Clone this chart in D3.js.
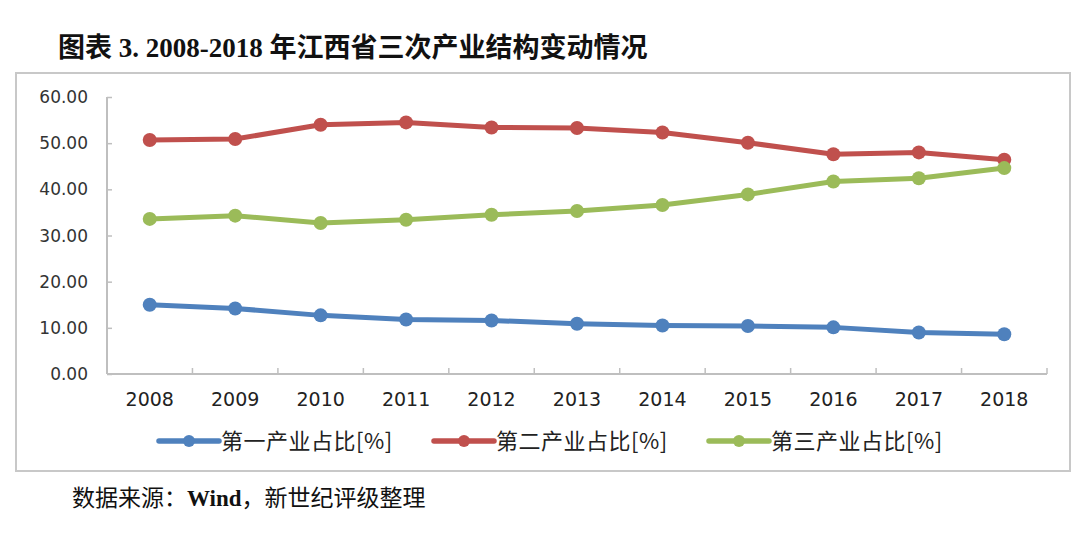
<!DOCTYPE html>
<html>
<head>
<meta charset="utf-8">
<script src="https://cdn.jsdelivr.net/npm/d3@7"></script>
<style>
  body { margin: 0; background: #fff; }
  svg { display: block; }
</style>
</head>
<body>
<div id="chart"></div>
<script>
var width = 1080,
    height = 536;

var years = ['2008', '2009', '2010', '2011', '2012', '2013', '2014', '2015', '2016', '2017', '2018'];
var primary = [15.0, 14.2, 12.7, 11.8, 11.6, 10.9, 10.5, 10.4, 10.1, 9.0, 8.6];
var secondary = [50.7, 50.9, 54.0, 54.5, 53.4, 53.3, 52.3, 50.1, 47.6, 48.0, 46.4];
var tertiary = [33.6, 34.3, 32.7, 33.4, 34.5, 35.3, 36.6, 38.9, 41.7, 42.4, 44.6];
var seriesNames = ['第一产业占比[%]', '第二产业占比[%]', '第三产业占比[%]'];
var yTicks = [0, 10, 20, 30, 40, 50, 60];

var colors = ['#4f81bd', '#c0504d', '#9bbb59'];
var series = [primary, secondary, tertiary];

var svg = d3.select('#chart')
    .append('svg')
    .attr('width', width)
    .attr('height', height);

// title
var title = svg.append('text')
    .attr('x', 58)
    .attr('y', 57)
    .attr('font-family', '"Liberation Serif", "Noto Sans CJK SC", serif')
    .attr('font-weight', 'bold')
    .attr('font-size', 27)
    .attr('fill', '#111');
title.append('tspan').text('图表 3. 2008-2018 年江西省三次产业结构变动情况');

// chart frame
svg.append('rect')
    .attr('x', 16)
    .attr('y', 73)
    .attr('width', 1054)
    .attr('height', 398)
    .attr('fill', '#fff')
    .attr('stroke', '#c8c8c8')
    .attr('stroke-width', 2);

var x = d3.scaleBand()
    .domain(years)
    .range([107, 1047]);

var y = d3.scaleLinear()
    .domain([0, 60])
    .range([374, 97]);

// y axis
var yAxis = svg.append('g')
    .attr('transform', 'translate(107,0)')
    .call(d3.axisRight(y).tickValues(yTicks).tickSize(5).tickFormat(''));
yAxis.select('.domain').remove();
yAxis.selectAll('line').attr('stroke', '#bfbfbf').attr('stroke-width', 1.5);

svg.append('line')
    .attr('x1', 107).attr('x2', 107)
    .attr('y1', y(60)).attr('y2', y(0))
    .attr('stroke', '#bfbfbf')
    .attr('stroke-width', 2);

svg.selectAll('.ylab')
    .data(yTicks)
    .enter()
    .append('text')
    .attr('class', 'ylab')
    .attr('x', 88)
    .attr('y', d => y(d) + 6)
    .attr('text-anchor', 'end')
    .attr('font-family', '"DejaVu Sans", sans-serif')
    .attr('font-size', 17)
    .attr('fill', '#333')
    .text(d => d3.format('.2f')(d));

// x axis
svg.append('line')
    .attr('x1', 107).attr('x2', 1047)
    .attr('y1', y(0)).attr('y2', y(0))
    .attr('stroke', '#bfbfbf')
    .attr('stroke-width', 2);

svg.selectAll('.xtick')
    .data(years.map(d => x(d)).concat([x(years[years.length - 1]) + x.bandwidth()]))
    .enter()
    .append('line')
    .attr('class', 'xtick')
    .attr('x1', d => d).attr('x2', d => d)
    .attr('y1', y(0)).attr('y2', y(0) - 6)
    .attr('stroke', '#bfbfbf')
    .attr('stroke-width', 1.5);

svg.selectAll('.xlab')
    .data(years)
    .enter()
    .append('text')
    .attr('class', 'xlab')
    .attr('x', d => x(d) + x.bandwidth() / 2)
    .attr('y', 406)
    .attr('text-anchor', 'middle')
    .attr('font-family', '"DejaVu Sans", sans-serif')
    .attr('font-size', 19)
    .attr('fill', '#222')
    .text(d => d);

// lines + markers
var line = d3.line()
    .x((d, i) => x(years[i]) + x.bandwidth() / 2)
    .y(d => y(d));

series.forEach((s, k) => {
    svg.append('path')
        .datum(s)
        .attr('fill', 'none')
        .attr('stroke', colors[k])
        .attr('stroke-width', 5)
        .attr('stroke-linejoin', 'round')
        .attr('d', line);

    svg.selectAll('.pt' + k)
        .data(s)
        .enter()
        .append('circle')
        .attr('class', 'pt' + k)
        .attr('cx', (d, i) => x(years[i]) + x.bandwidth() / 2)
        .attr('cy', d => y(d))
        .attr('r', 7)
        .attr('fill', colors[k]);
});

// legend
var legend = svg.selectAll('.legend')
    .data(seriesNames)
    .enter()
    .append('g')
    .attr('class', 'legend')
    .attr('transform', (d, i) => 'translate(' + (159 + i * 275) + ',441)');

legend.append('line')
    .attr('x1', 0).attr('x2', 60)
    .attr('stroke', (d, i) => colors[i])
    .attr('stroke-width', 5.5)
    .attr('stroke-linecap', 'round');

legend.append('circle')
    .attr('cx', 30)
    .attr('r', 6)
    .attr('fill', (d, i) => colors[i]);

legend.append('text')
    .attr('x', 62)
    .attr('y', 8)
    .attr('font-family', '"Noto Sans CJK SC", sans-serif')
    .attr('font-size', 22)
    .attr('letter-spacing', 0.5)
    .attr('fill', '#222')
    .text(d => d);

// source
var src = svg.append('text')
    .attr('x', 72)
    .attr('y', 506)
    .attr('font-family', '"Liberation Serif", "Noto Sans CJK SC", serif')
    .attr('font-size', 23)
    .attr('fill', '#111');
src.append('tspan').text('数据来源：');
src.append('tspan').attr('font-weight', 'bold').text('Wind');
src.append('tspan').text('，新世纪评级整理');
</script>
</body>
</html>
